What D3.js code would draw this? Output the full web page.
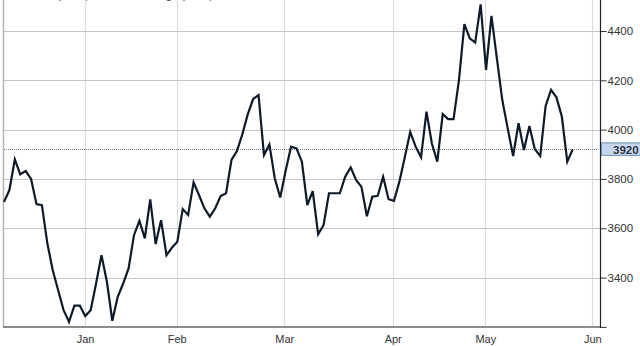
<!DOCTYPE html>
<html>
<head>
<meta charset="utf-8">
<script src="https://cdn.jsdelivr.net/npm/d3@7"></script>
<style>
  html, body { margin: 0; padding: 0; background: #fff; }
  svg { display: block; font-family: "Liberation Sans", Arial, sans-serif; }
</style>
</head>
<body>
<svg id="chart" width="640" height="346"></svg>
<script>
// ---- data ----
const values = [
  3707, 3755, 3879, 3819, 3832, 3800, 3698, 3694, 3539, 3430,
  3349, 3268, 3221, 3286, 3286, 3244, 3268, 3376, 3491, 3383,
  3225, 3322, 3376, 3437, 3572, 3630, 3559, 3717, 3536, 3633,
  3491, 3521, 3545, 3678, 3654, 3786, 3735, 3681, 3647, 3681,
  3731, 3742, 3877, 3913, 3981, 4062, 4124, 4140, 3897, 3940,
  3802, 3725, 3833, 3931, 3924, 3870, 3694, 3751, 3576, 3613,
  3742, 3742, 3742, 3809, 3847, 3796, 3768, 3649, 3728, 3732,
  3809, 3718, 3711, 3789, 3888, 3991, 3931, 3888, 4073, 3944,
  3870, 4063, 4043, 4043, 4201, 4428, 4370, 4353, 4508, 4242,
  4461, 4289, 4120, 4005, 3893, 4026, 3917, 4015, 3921, 3893,
  4096, 4161, 4131, 4052, 3870, 3920
];
const monthLabels = ["Jan", "Feb", "Mar", "Apr", "May", "Jun"];
const monthIndex = [14.96, 31.89, 51.75, 71.77, 88.87, 108.62]; // position in trading-day index
const yTicks = [3200, 3400, 3600, 3800, 4000, 4200, 4400];
const lastValue = values[values.length - 1];
const headerTexts = ["Low (3221)", "High (4508)"];

// ---- layout ----
const svg = d3.select("#chart");
const plotLeft = 4, plotRight = 600, plotBottom = 327;

const x = d3.scaleLinear().domain([0, values.length - 1]).range([4, 572.7]);
const y = d3.scaleLinear().domain([3400, 4400]).range([277.6, 31]);

// header (cropped at top)
svg.selectAll("text.header").data(headerTexts).enter().append("text")
  .attr("class", "header")
  .attr("x", (d, i) => i === 0 ? 89 : 213)
  .attr("y", -0.6)
  .attr("text-anchor", "end")
  .attr("font-size", 11)
  .attr("fill", "#333")
  .text(d => d);

// vertical grid
svg.append("g").selectAll("line").data(monthIndex).enter().append("line")
  .attr("x1", d => Math.round(x(d)) + 0.5).attr("x2", d => Math.round(x(d)) + 0.5)
  .attr("y1", 0).attr("y2", plotBottom)
  .attr("stroke", "#dcdcdc").attr("stroke-width", 1.2);

// horizontal grid
svg.append("g").selectAll("line").data(yTicks.filter(d => d > 3200)).enter().append("line")
  .attr("x1", plotLeft).attr("x2", plotRight)
  .attr("y1", d => Math.round(y(d)) + 0.5).attr("y2", d => Math.round(y(d)) + 0.5)
  .attr("stroke", "#c6c6c6").attr("stroke-width", 1.2);

// left border
svg.append("line")
  .attr("x1", 3.5).attr("x2", 3.5).attr("y1", 0).attr("y2", plotBottom)
  .attr("stroke", "#b4b4b4").attr("stroke-width", 1.5);

// last value dotted line
svg.append("line")
  .attr("x1", plotLeft).attr("x2", 598)
  .attr("y1", Math.round(y(lastValue)) + 0.5).attr("y2", Math.round(y(lastValue)) + 0.5)
  .attr("stroke", "#7a7a7a").attr("stroke-width", 1).attr("stroke-dasharray", "1,1");

// data line
const line = d3.line().x((d, i) => x(i)).y(d => y(d));
svg.append("path").datum(values)
  .attr("d", line)
  .attr("fill", "none")
  .attr("stroke", "#0e1a2a")
  .attr("stroke-width", 2.2)
  .attr("stroke-linejoin", "miter")
  .attr("stroke-miterlimit", 4);

// bottom axis line
svg.append("line")
  .attr("x1", 3).attr("x2", plotRight + 1).attr("y1", plotBottom).attr("y2", plotBottom)
  .attr("stroke", "#8c8c8c").attr("stroke-width", 2);

// x axis labels
const xAxis = d3.axisBottom(x).tickValues(monthIndex)
  .tickFormat((d, i) => monthLabels[i]).tickSize(0).tickPadding(8);
const gx = svg.append("g").attr("transform", `translate(0,${plotBottom})`).call(xAxis);
gx.select(".domain").remove();
gx.selectAll("text")
  .attr("font-family", "Liberation Sans, Arial, sans-serif")
  .attr("font-size", 11).attr("fill", "#333");

// right axis
svg.append("line")
  .attr("x1", 600.5).attr("x2", 600.5).attr("y1", 0).attr("y2", plotBottom + 1)
  .attr("stroke", "#222").attr("stroke-width", 1.2);
const yAxis = d3.axisRight(y).tickValues(yTicks)
  .tickFormat(d => d === 3200 ? "" : d).tickSize(6).tickPadding(1);
const gy = svg.append("g").attr("transform", "translate(600.5,0)").call(yAxis);
gy.select(".domain").remove();
gy.selectAll(".tick line").attr("stroke", "#333").attr("stroke-width", 1);
gy.selectAll("text")
  .attr("font-family", "Liberation Sans, Arial, sans-serif")
  .attr("font-size", 11.5).attr("fill", "#333");

// last value label
const ly = y(lastValue);
svg.append("rect")
  .attr("x", 601.5).attr("y", ly - 6.5).attr("width", 40).attr("height", 12.5)
  .attr("fill", "#c2d6ee").attr("stroke", "#6f8fb3").attr("stroke-width", 1);
svg.append("text")
  .attr("x", 613).attr("y", ly).attr("dy", "0.36em")
  .attr("font-size", 11.5).attr("font-weight", "bold")
  .attr("fill", "#1c2a3e")
  .attr("stroke", "#ffffff").attr("stroke-width", 0.6).attr("paint-order", "stroke")
  .text(lastValue);
</script>
</body>
</html>
